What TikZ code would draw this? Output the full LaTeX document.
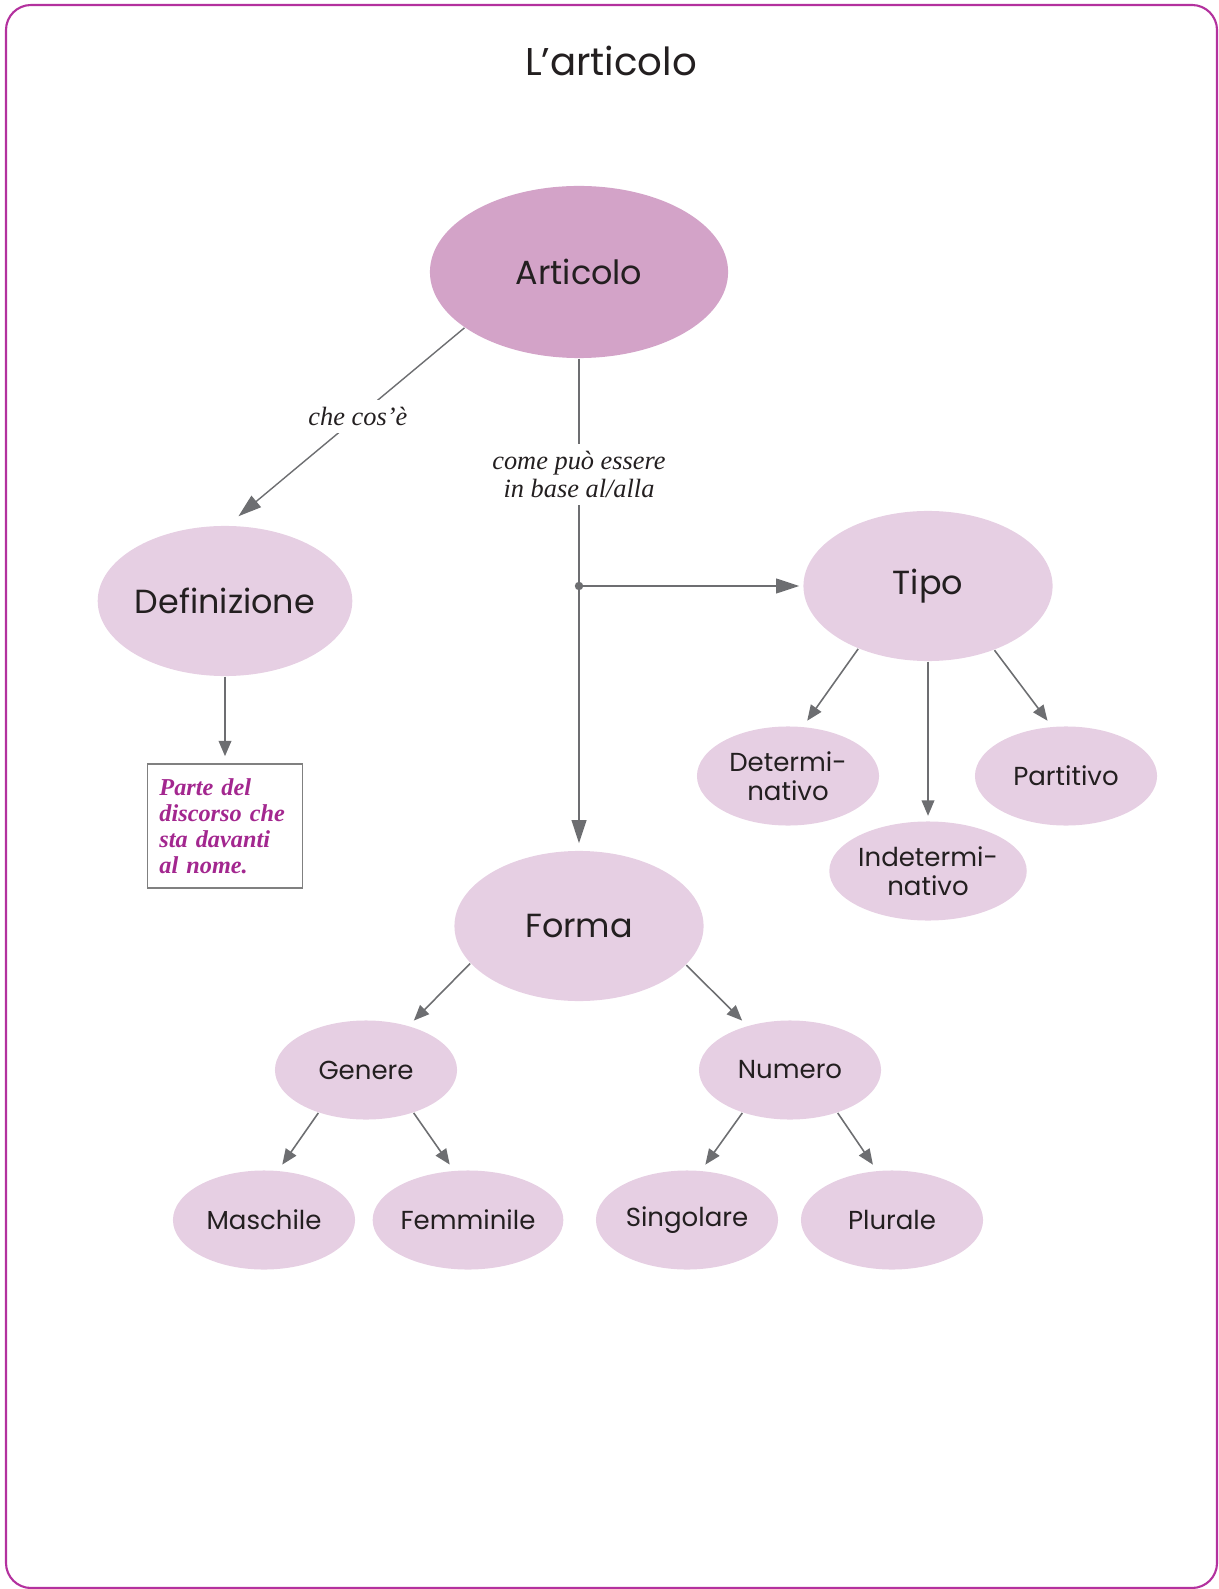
\documentclass[tikz,border=0pt]{standalone}
\usepackage{fontspec}
\setmainfont{Poppins}
\newfontfamily\serifit{Liberation Serif}
\usetikzlibrary{shapes,arrows.meta,positioning}
\definecolor{ink}{HTML}{231F20}
\definecolor{mauve}{HTML}{D3A3C8}
\definecolor{lilac}{HTML}{E6CFE3}
\definecolor{frameviolet}{HTML}{B3319E}
\definecolor{notaviolet}{HTML}{A3278F}
\definecolor{arrowgray}{HTML}{6D6E71}

\begin{document}
\begin{tikzpicture}[x=0.01cm, y=-0.01cm,
    bub/.style={ellipse, fill=lilac, inner sep=0pt, minimum width=2.49cm, minimum height=1.50cm, text=ink, font=\fontsize{9.5}{11}\selectfont},
    mainbub/.style={bub, fill=mauve, minimum width=2.98cm, minimum height=1.72cm},
    leaf/.style={bub, minimum width=1.82cm, minimum height=0.99cm, align=center, font=\fontsize{7.4}{8.4}\selectfont},
    conn/.style={draw=arrowgray, line width=0.45pt, shorten >=2pt, -{Triangle[length=4.4pt,width=3.6pt]}},
    mainconn/.style={conn, line width=0.55pt, -{Triangle[length=6.6pt,width=4.2pt]}},
    conntext/.style={fill=white, text=ink, inner sep=2pt, font=\serifit\itshape\fontsize{7.5}{8}\selectfont},
    notabox/.style={draw=gray, line width=0.4pt, minimum width=1.55cm, minimum height=1.24cm, inner sep=0pt,
        text width=1.31cm, align=left, text=notaviolet, font=\serifit\bfseries\itshape\fontsize{6.9}{7.4}\selectfont}]
    \useasboundingbox (0,0) rectangle (1218,1589);
    \draw[frameviolet, line width=0.6pt, rounded corners=0.25cm] (6,5) rectangle (1217,1588);
    \node[text=ink, font=\fontsize{11}{13}\selectfont] (titolo) at (611,61) {L’articolo};

    \node[mainbub] (articolo) at (579,272) {Articolo};
    \node[bub] (defin) at (225,601) {Definizione};
    \node[bub] (tipo) at (928,586) {Tipo};
    \node[bub] (forma) at (579,926) {Forma};
    \node[notabox] (nota) at (225,826) {Parte del\\discorso che\\sta davanti\\al nome.};
    \node[leaf] (det) at (788,776) {Determi-\\nativo};
    \node[leaf] (indet) at (928,871) {Indetermi-\\nativo};
    \node[leaf] (part) at (1066,776) {Partitivo};
    \node[leaf] (genere) at (366,1070) {Genere};
    \node[leaf] (numero) at (790,1070) {Numero};
    \node[leaf] (masch) at (264,1220) {Maschile};
    \node[leaf] (femm) at (468,1220) {Femminile};
    \node[leaf] (sing) at (687,1220) {Singolare};
    \node[leaf] (plur) at (892,1220) {Plurale};

    \coordinate (bivio) at (articolo.south |- tipo.west);
    \draw[mainconn, line width=0.4pt, shorten >=4pt] (articolo.206) -- node[conntext, pos=0.45] {che cos’è} (defin.88);
    \draw[mainconn] (articolo.south) -- node[conntext, pos=0.235, align=center] {come può essere\\in base al/alla} (forma.north);
    \fill[arrowgray] (bivio) circle (1.2pt);
    \draw[mainconn, shorten >=1pt] (bivio) -- (tipo.west);
    \draw[conn, line width=0.55pt] (defin.south) -- (nota.north);
    \draw[conn] (tipo.222) -- (det.73);
    \draw[conn, shorten >=1.4pt] (tipo.south) -- (indet.north);
    \draw[conn] (tipo.316) -- (part.106);
    \draw[conn] (forma.199) -- (genere.46);
    \draw[conn] (forma.340) -- (numero.134);
    \draw[conn] (genere.222) -- (masch.74);
    \draw[conn] (genere.318) -- (femm.106);
    \draw[conn] (numero.222) -- (sing.74);
    \draw[conn] (numero.318) -- (plur.107);
\end{tikzpicture}
\end{document}
